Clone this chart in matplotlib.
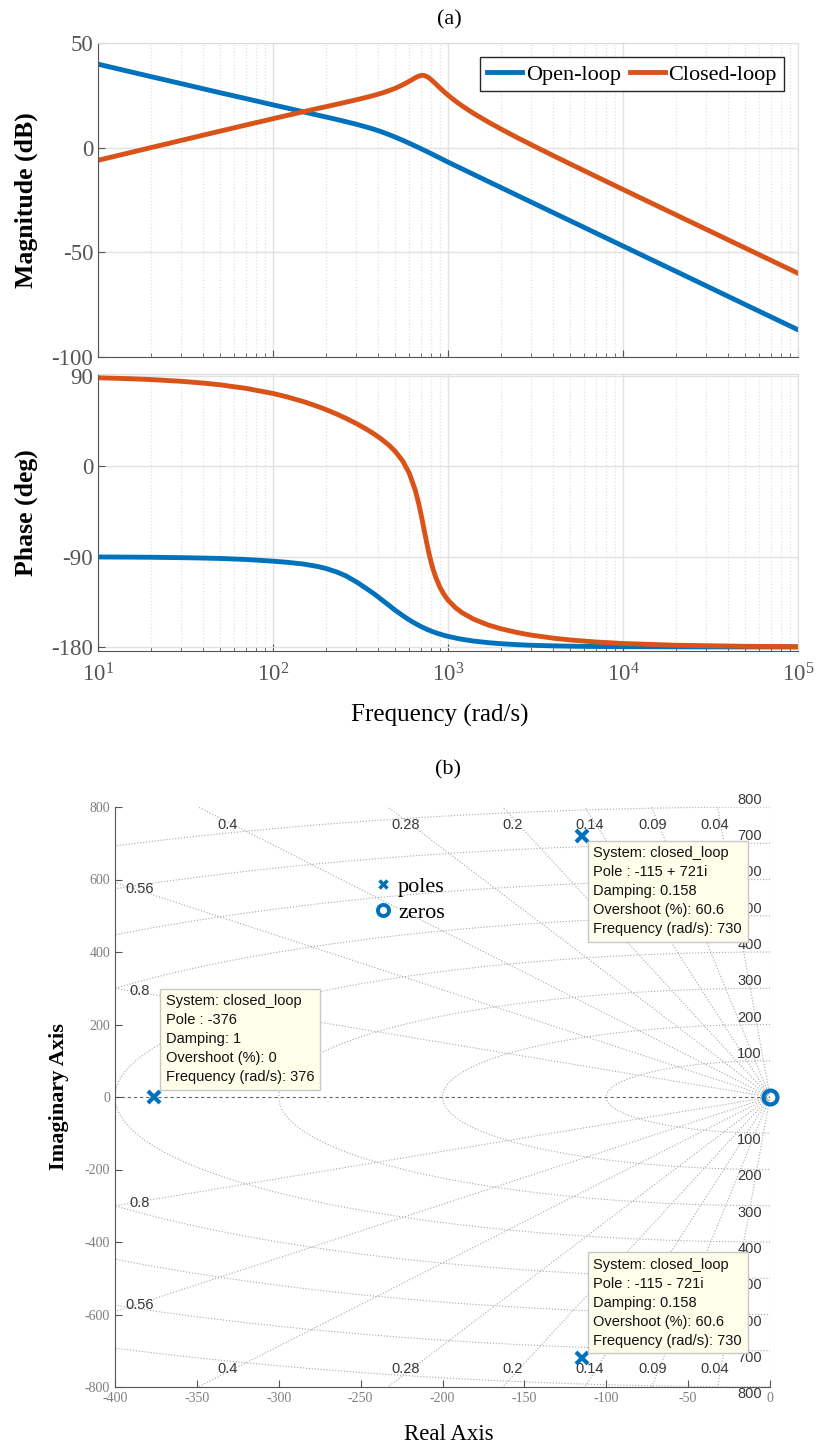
import numpy as np
import matplotlib.pyplot as plt
from matplotlib.lines import Line2D

plt.rcParams['font.family'] = 'serif'
plt.rcParams['font.serif'] = ['Liberation Serif', 'DejaVu Serif']
plt.rcParams['mathtext.fontset'] = 'custom'
plt.rcParams['mathtext.rm'] = 'Liberation Serif'
plt.rcParams['mathtext.default'] = 'regular'
plt.rcParams['axes.unicode_minus'] = False

# ---- Bode data ----
freq = [10, 15, 20, 30, 40, 50, 70, 100, 120, 150, 180, 200, 230, 260, 300, 340,
        380, 420, 460, 500, 550, 600, 650, 680, 700, 720, 730, 740, 760, 780, 800,
        820, 850, 900, 950, 1000, 1100, 1200, 1400, 1700, 2000, 2500, 3000, 4000,
        5000, 7000, 10000, 20000, 50000, 100000]
ol_mag = [39.9, 36.43, 33.98, 30.56, 28.11, 26.22, 23.45, 20.45, 18.97, 17.08, 15.54,
          14.68, 13.52, 12.45, 11.16, 9.92, 8.70, 7.49, 6.24, 5.02, 3.54, 2.14, 0.79,
          0.02, -0.48, -0.98, -1.22, -1.45, -1.92, -2.37, -2.83, -3.28, -3.94, -4.96,
          -5.95, -6.9, -8.58, -10.08, -12.77, -16.16, -18.99, -22.89, -26.06, -31.07,
          -34.95, -40.80, -47.0, -59.02, -74.98, -87.0]
cl_mag = [-6.03, -2.51, -0.01, 3.50, 6.00, 7.92, 10.81, 13.84, 15.37, 17.21, 18.71,
          19.55, 20.69, 21.69, 22.89, 23.99, 25.05, 26.11, 27.22, 28.38, 29.97, 31.69,
          33.39, 34.17, 34.48, 34.55, 34.48, 34.34, 33.91, 33.29, 32.55, 31.74, 30.50,
          28.50, 26.69, 25.09, 22.33, 20.04, 16.38, 12.22, 8.97, 4.71, 1.35, -3.84,
          -7.80, -13.72, -19.97, -32.03, -47.96, -60.0]
ol_phase = [-90.3, -90.45, -90.6, -91.0, -91.4, -91.8, -92.8, -94.5, -95.6, -97.4,
            -99.8, -101.7, -105.1, -109.0, -115.2, -121.5, -127.3, -133.2, -138.5,
            -143.5, -148.6, -153.0, -156.6, -158.4, -159.6, -160.6, -161.1, -161.6,
            -162.5, -163.3, -164.1, -164.8, -165.8, -167.2, -168.4, -169.4, -171.0,
            -172.3, -174.1, -175.7, -176.7, -177.7, -178.3, -178.9, -179.2, -179.5,
            -179.7, -179.85, -179.95, -180.0]
cl_phase = [88.23, 87.35, 86.46, 84.70, 82.94, 81.19, 77.70, 72.59, 69.25, 64.38,
            59.68, 56.65, 52.24, 48.00, 42.54, 37.24, 31.99, 26.64, 20.99, 14.76, 5.51,
            -6.66, -23.72, -37.05, -47.12, -57.70, -63.05, -68.27, -78.28, -87.31,
            -95.23, -102.02, -110.37, -120.64, -127.88, -133.22, -140.66, -145.69,
            -152.26, -158.11, -161.79, -165.71, -168.20, -171.23, -173.01, -175.03,
            -176.53, -178.26, -179.31, -179.65]

# ---- pole-zero data ----
pole_re = [-376, -115, -115]
pole_im = [0, 721, -721]
zero_re = [0]
zero_im = [0]
pole_damping = [1, 0.158, 0.158]
pole_overshoot = [0, 60.6, 60.6]
pole_wn = [376, 730, 730]

zeta_grid = [0.04, 0.09, 0.14, 0.2, 0.28, 0.4, 0.56, 0.8]
wn_grid = [100, 200, 300, 400, 500, 600, 700, 800]

blue = '#0072BD'
orange = '#D95319'

W, H = 818, 1450
fig = plt.figure(figsize=(W / 100, H / 100), dpi=100)
ax_mag = fig.add_axes([98 / W, 1 - 357 / H, 700 / W, 314 / H])
ax_ph = fig.add_axes([98 / W, 1 - 651 / H, 700 / W, 277 / H])
ax_pz = fig.add_axes([115 / W, 1 - 1387 / H, 655 / W, 580 / H])


def style_bode(ax):
    ax.set_xscale('log')
    ax.set_xlim(10, 1e5)
    ax.grid(True, which='major', color='#e2e2e2', lw=1.0, ls='-')
    ax.grid(True, which='minor', axis='x', color='#e2e2e2', lw=0.9, ls=':')
    ax.set_axisbelow(True)
    ax.tick_params(which='both', direction='in', colors='#555555',
                   labelsize=16.5, labelcolor='#555555')
    ax.tick_params(which='major', length=5)
    ax.tick_params(which='minor', length=3)
    for s in ['top', 'right']:
        ax.spines[s].set_color('#dddddd')
    for s in ['left', 'bottom']:
        ax.spines[s].set_color('#555555')


# magnitude
ax_mag.plot(freq, ol_mag, color=blue, lw=3.5, label='Open-loop')
ax_mag.plot(freq, cl_mag, color=orange, lw=3.5, label='Closed-loop')
style_bode(ax_mag)
ax_mag.set_ylim(-100, 50)
ax_mag.set_yticks([-100, -50, 0, 50])
ax_mag.tick_params(labelbottom=False)
ax_mag.set_ylabel('Magnitude (dB)', fontsize=18.5, fontweight='bold')
ax_mag.yaxis.set_label_coords(-0.085, 0.5)
leg = ax_mag.legend(loc='upper right', ncol=2, fontsize=16, fancybox=False,
                    edgecolor='#262626', framealpha=1, handlelength=1.6,
                    handletextpad=0.15, columnspacing=0.4, borderpad=0.3,
                    borderaxespad=0.65)
leg.get_frame().set_linewidth(1.0)

# phase
ax_ph.plot(freq, ol_phase, color=blue, lw=3.5)
ax_ph.plot(freq, cl_phase, color=orange, lw=3.5)
style_bode(ax_ph)
ax_ph.set_ylim(-184, 92)
ax_ph.set_yticks([-180, -90, 0, 90])
ax_ph.tick_params(axis='x', pad=9)
ax_ph.set_ylabel('Phase (deg)', fontsize=18.5, fontweight='bold')
ax_ph.yaxis.set_label_coords(-0.085, 0.5)
ax_ph.set_xlabel('Frequency (rad/s)', fontsize=18)
ax_ph.xaxis.set_label_coords(0.488, -0.19)

fig.text(449 / W, 1 - 20 / H, '(a)', ha='center', va='center', fontsize=16)
fig.text(448 / W, 1 - 770 / H, '(b)', ha='center', va='center', fontsize=16)

# ---- pole-zero map ----
grid_kw = dict(ls=':', color='#a8a8a8', lw=0.8, zorder=1)
theta = np.linspace(np.pi / 2, 3 * np.pi / 2, 300)
for r in wn_grid:
    ax_pz.plot(r * np.cos(theta), r * np.sin(theta), **grid_kw)
for z in zeta_grid:
    a = np.arccos(z)
    ax_pz.plot([0, -2000 * np.cos(a)], [0, 2000 * np.sin(a)], **grid_kw)
    ax_pz.plot([0, -2000 * np.cos(a)], [0, -2000 * np.sin(a)], **grid_kw)
ax_pz.axhline(0, ls=(0, (3, 2.5)), color='#666666', lw=0.8, zorder=1)
ax_pz.axvline(0, **grid_kw)

lab_kw = dict(family='Liberation Sans', fontsize=10.5, color='#383838', zorder=2)
for z in zeta_grid:
    t = np.tan(np.arccos(z))
    if 400 * t > 750:
        for s in (1, -1):
            ax_pz.text(-750 / t - 4, s * 750, f'{z:g}', ha='center', va='center', **lab_kw)
    else:
        for s in (1, -1):
            ax_pz.text(-385, s * (385 * t + 5), f'{z:g}', ha='center', va='center', **lab_kw)
for r in wn_grid:
    ax_pz.text(-5, r, str(r), ha='right', va='bottom', **lab_kw)
    ax_pz.text(-5, -r, str(r), ha='right', va='top', **lab_kw)

ax_pz.plot(pole_re, pole_im, ls='none', marker='x', color=blue, ms=8.5, mew=3, zorder=5)
ax_pz.plot(zero_re, zero_im, ls='none', marker='o', mfc='none', mec=blue, ms=10,
           mew=3, zorder=6, clip_on=False)

ax_pz.set_xlim(-400, 0)
ax_pz.set_ylim(-800, 800)
ax_pz.set_xticks(np.arange(-400, 1, 50))
ax_pz.set_yticks(np.arange(-800, 801, 200))
ax_pz.tick_params(direction='in', length=5, colors='#555555', labelsize=10,
                  labelcolor='#7f7f7f')
for s in ['top', 'right']:
    ax_pz.spines[s].set_visible(False)
for s in ['left', 'bottom']:
    ax_pz.spines[s].set_color('#555555')
ax_pz.set_ylabel('Imaginary Axis', fontsize=16, fontweight='bold')
ax_pz.yaxis.set_label_coords(-0.07, 0.5)
ax_pz.set_xlabel('Real Axis', fontsize=16.5)
ax_pz.xaxis.set_label_coords(0.51, -0.064)

handles = [Line2D([], [], ls='none', marker='x', color=blue, ms=6, mew=2.5),
           Line2D([], [], ls='none', marker='o', mfc='none', mec=blue, ms=8, mew=2.8)]
ax_pz.legend(handles, ['poles', 'zeros'], loc='center left', frameon=False,
             bbox_to_anchor=(0.395, 0.8405), borderaxespad=0, borderpad=0,
             fontsize=16, handlelength=0.8, handletextpad=0.3, labelspacing=0.25)

# data tips
for re, im, d, os_, wn in zip(pole_re, pole_im, pole_damping, pole_overshoot, pole_wn):
    if im == 0:
        pole_txt = f'{re:g}'
    else:
        pole_txt = f'{re:g} {"+" if im > 0 else "-"} {abs(im):g}i'
    txt = ('System: closed_loop\n'
           f'Pole : {pole_txt}\n'
           f'Damping: {d:g}\n'
           f'Overshoot (%): {os_:g}\n'
           f'Frequency (rad/s): {wn:g}')
    if im > 0:
        off, va = (8.5, -7.8), 'top'
    elif im < 0:
        off, va = (8.5, 7.8), 'bottom'
    else:
        off, va = (8.5, 9.2), 'bottom'
    ax_pz.annotate(txt, xy=(re, im), xytext=off, textcoords='offset points',
                   ha='left', va=va, family='Liberation Sans', fontsize=10.5,
                   color='#111111', linespacing=1.45, zorder=10,
                   bbox=dict(boxstyle='square,pad=0.4', fc='#FEFEEA', ec='#c8c8c8', lw=1))

fig.savefig('out.png', dpi=100)
